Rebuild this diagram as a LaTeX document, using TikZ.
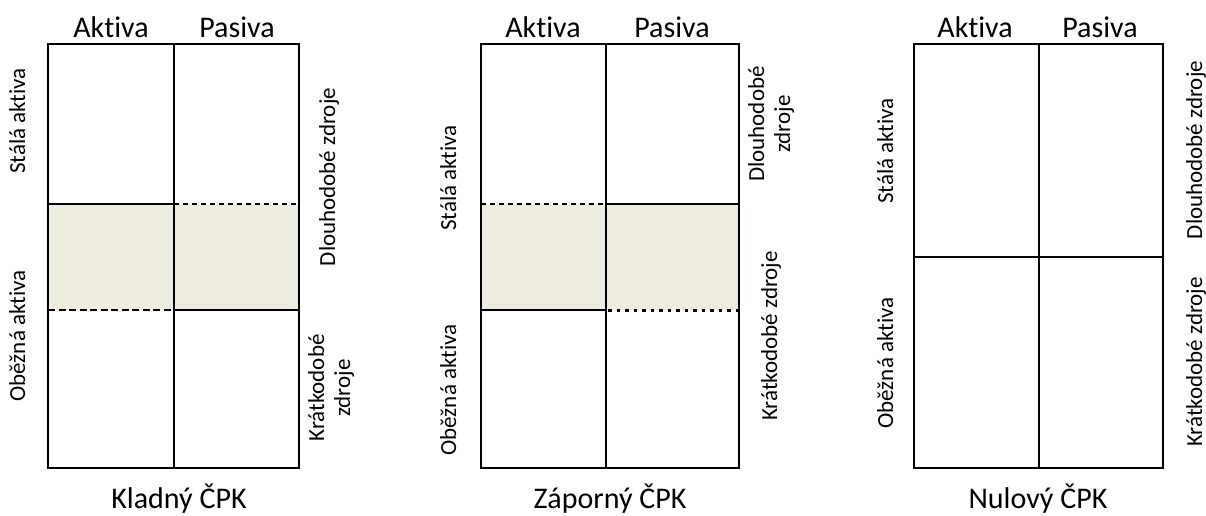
\documentclass[tikz,border=0pt]{standalone}
\usepackage{fontspec}
\setmainfont{Carlito}[RawFeature=-liga]
\definecolor{shadefill}{HTML}{EEECE1}
\begin{document}
\begin{tikzpicture}[x=1pt,y=-1pt,
  gridline/.style={line width=2pt},
  dashfine/.style={line width=2pt, dash pattern=on 4.5pt off 4.5pt},
  dashbold/.style={line width=2.6pt, dash pattern=on 7pt off 3.5pt},
  dashdots/.style={line width=3pt, dash pattern=on 3.5pt off 5pt},
  head/.style={font=\fontsize{30}{36}\selectfont, anchor=base, inner sep=0pt},
  side/.style={font=\fontsize{23}{26}\selectfont, rotate=90, anchor=base, inner sep=0pt},
  sidetwo/.style={font=\fontsize{23}{26}\selectfont, rotate=90, align=center, inner sep=0pt}]
\useasboundingbox (0,0) rectangle (1206,515);

% ---------- Panel 1: Kladny CPK ----------
\fill[shadefill] (48,203.5) rectangle (299,310);
\draw[gridline] (48,43.5) rectangle (299,467.7);
\draw[gridline] (174,43.5) -- (174,467.7);
\draw[gridline] (48,203.5) -- (174,203.5);
\draw[dashfine] (174,203.5) -- (299,203.5);
\draw[gridline] (174,310) -- (299,310);
\draw[dashbold] (48,310) -- (172,310);
\node[head] (a1) at (111,37) {Aktiva};
\node[head] (p1) at (237,37) {Pasiva};
\node[side] (sa1) at (25,121) {Stálá aktiva};
\node[side] (oa1) at (25,336) {Oběžná aktiva};
\node[side] (dz1) at (335,177) {Dlouhodobé zdroje};
\node[sidetwo] (kz1) at (331,388) {Krátkodobé\\zdroje};
\node[head] (t1) at (179,508) {Kladný ČPK};

% ---------- Panel 2: Zaporny CPK ----------
\fill[shadefill] (481,203.5) rectangle (739,310);
\draw[gridline] (481,43.5) rectangle (739,467.7);
\draw[gridline] (606,43.5) -- (606,467.7);
\draw[dashfine] (481,203.5) -- (606,203.5);
\draw[gridline] (606,203.5) -- (739,203.5);
\draw[gridline] (481,310) -- (606,310);
\draw[dashdots] (608,310) -- (739,310);
\node[head] (a2) at (543,37) {Aktiva};
\node[head] (p2) at (672,37) {Pasiva};
\node[side] (sa2) at (456,178) {Stálá aktiva};
\node[side] (oa2) at (456,390) {Oběžná aktiva};
\node[sidetwo] (dz2) at (771,124) {Dlouhodobé\\zdroje};
\node[side] (kz2) at (777,336) {Krátkodobé zdroje};
\node[head] (t2) at (610,508) {Záporný ČPK};

% ---------- Panel 3: Nulovy CPK ----------
\draw[gridline] (914,43.5) rectangle (1163,467.7);
\draw[gridline] (1039,43.5) -- (1039,467.7);
\draw[gridline] (914,256.7) -- (1163,256.7);
\node[head] (a3) at (975,37) {Aktiva};
\node[head] (p3) at (1100,37) {Pasiva};
\node[side] (sa3) at (893,151) {Stálá aktiva};
\node[side] (oa3) at (893,363) {Oběžná aktiva};
\node[side] (dz3) at (1202,150) {Dlouhodobé zdroje};
\node[side] (kz3) at (1202,362) {Krátkodobé zdroje};
\node[head] (t3) at (1038,508) {Nulový ČPK};
\end{tikzpicture}
\end{document}
